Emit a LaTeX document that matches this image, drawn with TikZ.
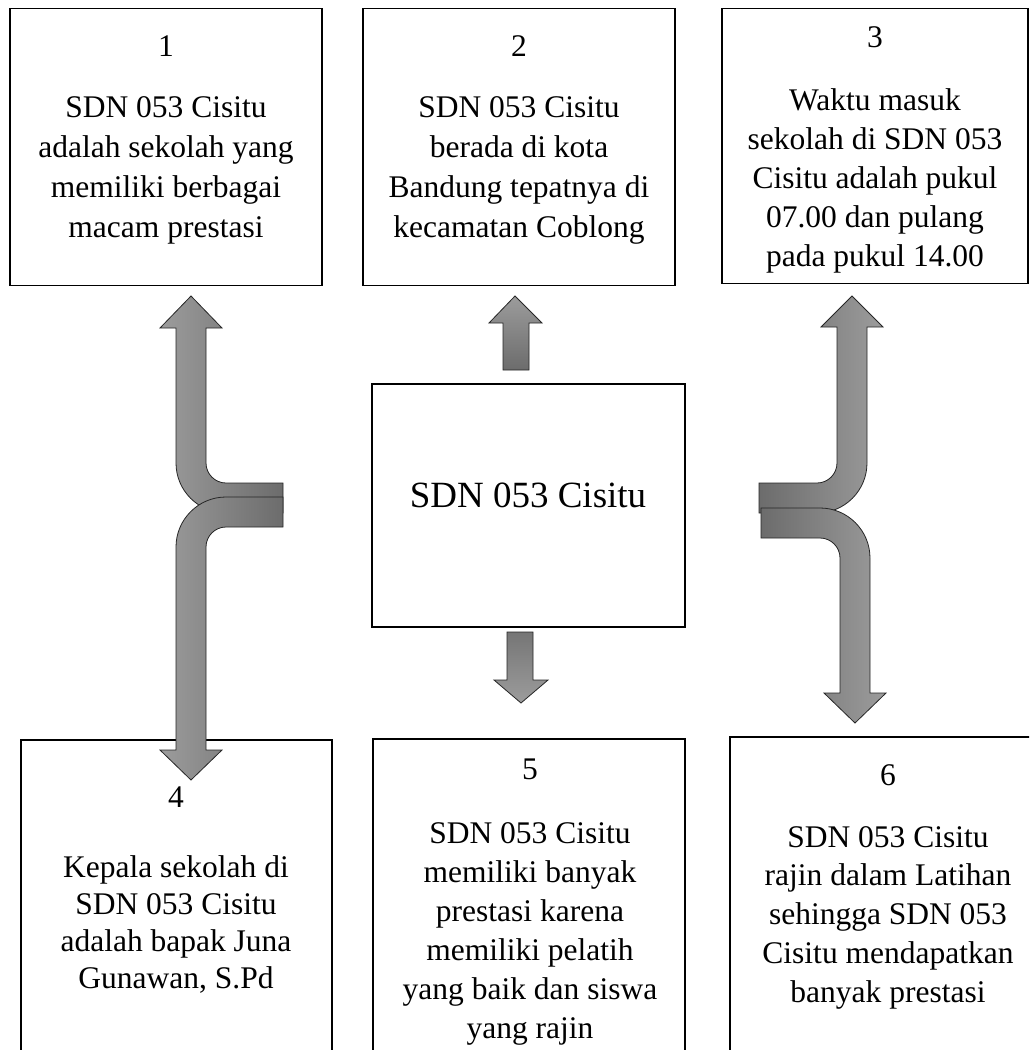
\documentclass[tikz,border=0pt]{standalone}
\usepackage{fontspec}
\setmainfont{Liberation Serif}
\begin{document}
\begin{tikzpicture}[x=1pt,y=-1pt,
  box/.style={draw=black, line width=1.8pt, fill=white, inner sep=0pt},
  boxtext/.style={anchor=base, align=center, inner sep=0pt, font=\fontsize{31.5}{40}\selectfont},
  numtext/.style={anchor=base, inner sep=0pt, font=\fontsize{31.5}{40}\selectfont},
  barrow/.style={draw=black!85, line width=0.8pt, line join=miter},
  hleft/.style={barrow, left color=arrL, right color=arrD},
  hright/.style={barrow, left color=arrD, right color=arrL},
]
\definecolor{arrL}{HTML}{9C9C9C}
\definecolor{arrD}{HTML}{6C6C6C}
\useasboundingbox (0,0) rectangle (1029,1050);
\fill[white] (0,0) rectangle (1029,1050);
\clip (0,0) rectangle (1029,1050);

% boxes
\node[box, minimum width=312pt, minimum height=277pt] (b1) at (166,147) {};
\node[box, minimum width=312pt, minimum height=277pt] (b2) at (519,147) {};
\node[box, minimum width=306pt, minimum height=275pt] (b3) at (875,146) {};
\node[box, minimum width=313pt, minimum height=243pt] (c) at (528.5,505.5) {};
\node[box, minimum width=311pt, minimum height=340pt] (b4) at (176.5,910) {};
\node[box, minimum width=312pt, minimum height=340pt] (b5) at (529,909) {};
\node[box, minimum width=316pt, minimum height=340pt] (b6) at (888,907) {};

% texts (multi-line nodes: base = baseline of last line)
\node[numtext] (n1) at (166,56) {1};
\node[boxtext] (t1) at (166,237) {SDN 053 Cisitu\\adalah sekolah yang\\memiliki berbagai\\macam prestasi};
\node[numtext] (n2) at (519,56) {2};
\node[boxtext] (t2) at (519,237) {SDN 053 Cisitu\\berada di kota\\Bandung tepatnya di\\kecamatan Coblong};
\node[numtext] (n3) at (875,47) {3};
\node[boxtext, font=\fontsize{31.5}{39}\selectfont] (t3) at (875,266) {Waktu masuk\\sekolah di SDN 053\\Cisitu adalah pukul\\07.00 dan pulang\\pada pukul 14.00};
\node[anchor=base, inner sep=0pt, font=\fontsize{37}{44}\selectfont] (tc) at (528,507) {SDN 053 Cisitu};
\node[numtext] (n4) at (176,807) {4};
\node[boxtext, font=\fontsize{31.5}{36.7}\selectfont] (t4) at (176,988) {Kepala sekolah di\\SDN 053 Cisitu\\adalah bapak Juna\\Gunawan, S.Pd};
\node[numtext] (n5) at (530,779) {5};
\node[boxtext, font=\fontsize{31.5}{39}\selectfont] (t5) at (530,1038) {SDN 053 Cisitu\\memiliki banyak\\prestasi karena\\memiliki pelatih\\yang baik dan siswa\\yang rajin};
\node[numtext] (n6) at (888,785) {6};
\node[boxtext, font=\fontsize{31.5}{38.7}\selectfont] (t6) at (888,1002) {SDN 053 Cisitu\\rajin dalam Latihan\\sehingga SDN 053\\Cisitu mendapatkan\\banyak prestasi};

% centre arrows
\draw[barrow, top color=arrL, bottom color=arrD]
  (515,296) -- (542,323) -- (529,323) -- (529,370) -- (503,370) -- (503,323) -- (489,323) -- cycle;
\draw[barrow, top color=arrD!80!arrL, bottom color=arrL]
  (507,632) -- (533,632) -- (533,680) -- (548,680) -- (521,703) -- (494,680) -- (507,680) -- cycle;

% left compound arrow: upper part
\draw[hleft]
  (191,296) -- (222,328) -- (206,328) -- (206,463)
  .. controls (206,474) and (215,483) .. (226,483)
  -- (283,483) -- (283,513) -- (226,513)
  .. controls (198.4,513) and (176,490.6) .. (176,463)
  -- (176,328) -- (160,328) -- cycle;
% left compound arrow: lower part
\draw[hleft]
  (283,497) -- (226,497)
  .. controls (198.4,497) and (176,519.4) .. (176,547)
  -- (176,750) -- (160,750) -- (191,780) -- (222,750) -- (206,750) -- (206,547)
  .. controls (206,536) and (215,527) .. (226,527)
  -- (283,527) -- cycle;

% right compound arrow: upper part
\draw[hright]
  (852,296) -- (883,327) -- (867,327) -- (867,463)
  .. controls (867,490.6) and (844.6,513) .. (817,513)
  -- (759,513) -- (759,483) -- (817,483)
  .. controls (828,483) and (837,474) .. (837,463)
  -- (837,327) -- (821,327) -- cycle;
% right compound arrow: lower part
\draw[hright]
  (761,508) -- (820,508)
  .. controls (847.6,508) and (870,530.4) .. (870,558)
  -- (870,693) -- (886,693) -- (855,723) -- (824,693) -- (840,693) -- (840,558)
  .. controls (840,547) and (831,538) .. (820,538)
  -- (761,538) -- cycle;
\end{tikzpicture}
\end{document}
